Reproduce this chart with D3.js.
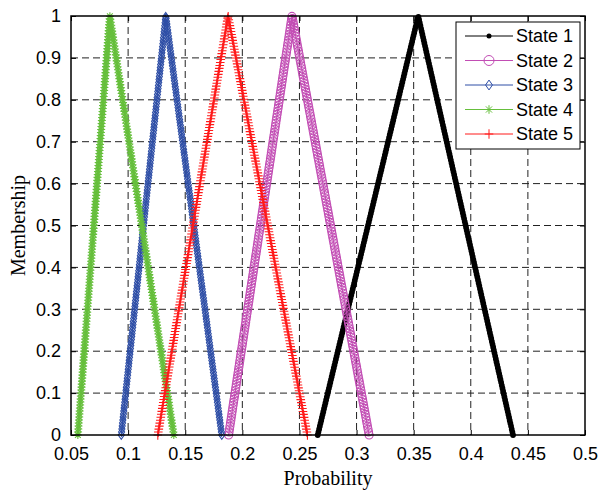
<!DOCTYPE html>
<html><head><meta charset="utf-8">
<script src="https://cdn.jsdelivr.net/npm/d3@7"></script>
<style>body{margin:0;background:#fff}svg{display:block}</style>
</head><body>
<svg id="chart" width="600" height="493"></svg>
<script>
// ---- data (triangular membership functions) ----
const states    = ["State 1", "State 2", "State 3", "State 4", "State 5"];
const leftFeet  = [0.266, 0.188, 0.094, 0.056, 0.126];
const peaks     = [0.354, 0.2435, 0.133, 0.084, 0.1875];
const rightFeet = [0.437, 0.311, 0.182, 0.140, 0.257];
const peakValue = 1;
const xTickVals = [0.05, 0.1, 0.15, 0.2, 0.25, 0.3, 0.35, 0.4, 0.45, 0.5];
const yTickVals = [0, 0.1, 0.2, 0.3, 0.4, 0.5, 0.6, 0.7, 0.8, 0.9, 1];

// ---- styles ----
const colors  = ["#000000", "#c24db4", "#2e4ea6", "#66bf3c", "#ff1a1a"];
const markers = ["dot", "circle", "diamond", "asterisk", "plus"];

const svg = d3.select("#chart");
const m = {l: 71, r: 585, t: 16, b: 435};
const x = d3.scaleLinear().domain([0.05, 0.5]).range([m.l, m.r]);
const y = d3.scaleLinear().domain([0, 1]).range([m.b, m.t]);

// grid
const g = svg.append("g");
g.selectAll(".vg").data(xTickVals.slice(1, -1)).join("line")
  .attr("x1", d => x(d)).attr("x2", d => x(d)).attr("y1", m.t).attr("y2", m.b)
  .attr("stroke", "#222").attr("stroke-width", 1).attr("stroke-dasharray", "7,4");
g.selectAll(".hg").data(yTickVals.slice(1, -1)).join("line")
  .attr("y1", d => y(d)).attr("y2", d => y(d)).attr("x1", m.l).attr("x2", m.r)
  .attr("stroke", "#222").attr("stroke-width", 1).attr("stroke-dasharray", "7,4");

// axes
const font = "'Liberation Sans', Arial, Helvetica, sans-serif";
const xAxis = svg.append("g").attr("transform", `translate(0,${m.b})`)
  .call(d3.axisBottom(x).tickValues(xTickVals).tickFormat(d3.format("~g")).tickSizeInner(-5).tickSizeOuter(0).tickPadding(12));
const yAxis = svg.append("g").attr("transform", `translate(${m.l},0)`)
  .call(d3.axisLeft(y).tickValues(yTickVals).tickFormat(d3.format("~g")).tickSizeInner(-5).tickSizeOuter(0).tickPadding(10));
const xTop = svg.append("g").attr("transform", `translate(0,${m.t})`)
  .call(d3.axisTop(x).tickValues(xTickVals).tickFormat("").tickSizeInner(-5).tickSizeOuter(0));
const yRight = svg.append("g").attr("transform", `translate(${m.r},0)`)
  .call(d3.axisRight(y).tickValues(yTickVals).tickFormat("").tickSizeInner(-5).tickSizeOuter(0));
[xAxis, yAxis, xTop, yRight].forEach(a => {
  a.select(".domain").remove();
  a.selectAll(".tick line").attr("stroke", "#000");
  a.selectAll("text").attr("font-family", font).attr("font-size", 18).attr("fill", "#000");
});

// series
function markerPath(type, s) {
  switch (type) {
    case "circle": return d3.symbol(d3.symbolCircle, Math.PI * s * s)();
    case "diamond": return `M0,${-s*1.15}L${s*0.8},0L0,${s*1.15}L${-s*0.8},0Z`;
    case "plus": return `M${-s},0L${s},0M0,${-s*1.1}L0,${s*1.1}`;
    case "asterisk": {
      const k = s * 0.72;
      return `M${-s},0L${s},0M0,${-s}L0,${s}M${-k},${-k}L${k},${k}M${-k},${k}L${k},${-k}`;
    }
    case "dot": return d3.symbol(d3.symbolCircle, Math.PI * s * s)();
  }
}
const mSize = {dot: 2.9, circle: 4, diamond: 3.8, asterisk: 4, plus: 4.3};
const line = d3.line().x(d => x(d[0])).y(d => y(d[1]));

states.forEach((name, i) => {
  const pts = [[leftFeet[i], 0], [peaks[i], peakValue], [rightFeet[i], 0]];
  const p = svg.append("path").datum(pts).attr("d", line)
    .attr("fill", "none").attr("stroke", colors[i]).attr("stroke-width", 1);
  // markers placed along the drawn line as a line style
  const node = p.node();
  const L = node.getTotalLength();
  const step = 3;
  const n = Math.round(L / step);
  const mg = svg.append("g");
  const mp = markerPath(markers[i], mSize[markers[i]]);
  for (let k = 0; k <= n; k++) {
    const pt = node.getPointAtLength(L * k / n);
    const e = mg.append("path").attr("d", mp).attr("transform", `translate(${pt.x},${pt.y})`);
    if (markers[i] === "dot") e.attr("fill", colors[i]);
    else e.attr("fill", "none").attr("stroke", colors[i]).attr("stroke-width", 1.1);
  }
});

// box
svg.append("rect").attr("x", m.l).attr("y", m.t).attr("width", m.r - m.l).attr("height", m.b - m.t)
  .attr("fill", "none").attr("stroke", "#000").attr("stroke-width", 1.5);

// legend
const lg = svg.append("g").attr("transform", "translate(456,22)");
lg.append("rect").attr("width", 124).attr("height", 127).attr("fill", "#fff").attr("stroke", "#000").attr("stroke-width", 1);
states.forEach((name, i) => {
  const yy = 14 + i * 24.5;
  lg.append("line").attr("x1", 9).attr("x2", 57).attr("y1", yy).attr("y2", yy).attr("stroke", colors[i]).attr("stroke-width", 1);
  const sz = markers[i] === "circle" ? 5 : markers[i] === "dot" ? 2.5 : 4.3;
  const e = lg.append("path").attr("d", markerPath(markers[i], sz)).attr("transform", `translate(33,${yy})`);
  if (markers[i] === "dot") e.attr("fill", colors[i]);
  else e.attr("fill", "none").attr("stroke", colors[i]).attr("stroke-width", 1);
  lg.append("text").attr("x", 60).attr("y", yy).attr("dy", "0.35em").text(name)
    .attr("font-family", font).attr("font-size", 18).attr("fill", "#000");
});

// axis titles
const serif = "'Liberation Serif', 'Times New Roman', Times, serif";
svg.append("text").attr("x", (m.l + m.r) / 2).attr("y", 485).attr("text-anchor", "middle")
  .attr("font-family", serif).attr("font-size", 20).text("Probability");
svg.append("text").attr("transform", `translate(25,${(m.t + m.b) / 2}) rotate(-90)`).attr("text-anchor", "middle")
  .attr("font-family", serif).attr("font-size", 20).text("Membership");
</script>
</body></html>
